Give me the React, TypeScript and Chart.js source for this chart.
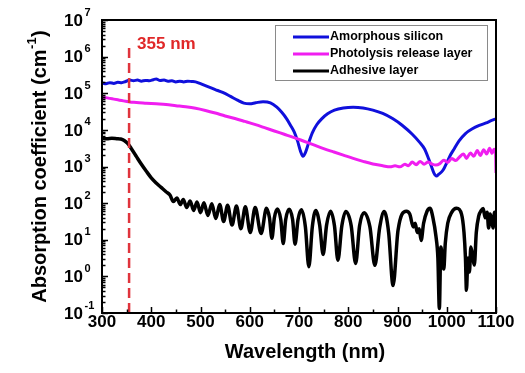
import React, { useEffect, useRef } from "react";
import { Chart, registerables } from "chart.js";

Chart.register(...registerables);

// ---------------- data ----------------
const siWavelength = [
  300, 308, 316, 324, 332, 340, 348, 356, 364, 372, 380, 388, 396, 404, 410, 418, 426, 434, 442, 450,
  458, 466, 474, 482, 490, 500, 515, 530, 545, 560, 575, 588, 600, 612, 627, 642, 655, 665, 675, 683,
  690, 697, 703, 708, 713, 719, 727, 736, 746, 758, 772, 790, 810, 830, 850, 870, 890, 910, 930, 945,
  955, 963, 969, 974, 979, 984, 990, 995, 1000, 1007, 1015, 1025, 1038, 1052, 1066, 1080, 1090, 1100,
];
const siAlpha = [
  1.91e5, 1.82e5, 1.95e5, 1.86e5, 2.0e5, 1.95e5, 2.09e5, 2.29e5, 2.19e5, 2.29e5, 2.14e5, 2.24e5, 2.19e5,
  2.34e5, 2.45e5, 2.24e5, 2.29e5, 2.14e5, 2.19e5, 2.04e5, 2.14e5, 2.04e5, 2.14e5, 2.09e5, 2.04e5,
  1.82e5, 1.51e5, 1.26e5, 1.05e5, 8.32e4, 6.46e4, 5.37e4, 5.13e4, 5.5e4, 5.89e4, 5.5e4, 4.17e4, 3.02e4,
  2.0e4, 1.32e4, 8.91e3, 5.01e3, 2.63e3, 1.91e3, 2.4e3, 4.17e3, 8.32e3, 1.38e4, 2.0e4, 2.75e4, 3.47e4,
  3.98e4, 4.17e4, 3.98e4, 3.47e4, 2.82e4, 2.04e4, 1.32e4, 7.59e3, 4.57e3, 3.02e3, 1.66e3, 1.0e3, 661,
  550, 617, 724, 912, 1.26e3, 2.0e3, 3.02e3, 5.01e3, 7.94e3, 1.07e4, 1.32e4, 1.55e4, 1.78e4, 2.0e4,
];

const prlWavelength = [
  300, 308, 316, 324, 332, 340, 348, 356, 370, 390, 410, 430, 450, 470, 490, 510, 530, 550, 570, 590,
  610, 630, 650, 670, 690, 710, 730, 750, 770, 790, 810, 830, 850, 870, 885, 895, 905, 915, 922, 930,
  938, 946, 954, 962, 970, 978, 986, 994, 1002, 1010, 1018, 1026, 1034, 1040, 1048, 1055, 1062, 1068,
  1075, 1081, 1087, 1092, 1096, 1099, 1100,
];
const prlAlpha = [
  7.76e4, 7.59e4, 7.24e4, 6.92e4, 6.61e4, 6.31e4, 6.03e4, 5.75e4, 5.62e4, 5.37e4, 5.13e4, 4.9e4, 4.57e4,
  4.27e4, 3.89e4, 3.39e4, 2.88e4, 2.4e4, 2.04e4, 1.7e4, 1.41e4, 1.15e4, 9.33e3, 7.59e3, 6.17e3, 4.9e3,
  3.89e3, 3.09e3, 2.51e3, 2.04e3, 1.66e3, 1.38e3, 1.17e3, 1.05e3, 977, 1.05e3, 977, 1.15e3, 1.05e3,
  1.32e3, 1.12e3, 1.38e3, 1.15e3, 1.32e3, 1.17e3, 1.1e3, 1.2e3, 1.48e3, 1.29e3, 1.66e3, 1.45e3, 1.82e3,
  2.19e3, 1.66e3, 2.34e3, 1.91e3, 2.75e3, 2.0e3, 2.88e3, 2.19e3, 3.16e3, 2.29e3, 2.95e3, 2.63e3, 661,
];

const adhWavelength = [
  300, 310, 320, 330, 338, 345, 352, 360, 370, 380, 390, 400, 410, 420, 430, 438, 445, 452, 459, 465,
  472, 479, 486, 493, 500, 507, 515, 523, 531, 539, 547, 555, 564, 573, 582, 591, 601, 611, 623, 634,
  640, 645, 650, 656, 663, 668, 673, 680, 687, 692, 698, 705, 713, 720, 727, 734, 742, 749, 756, 764,
  772, 779, 787, 795, 806, 815, 823, 832, 844, 854, 864, 873, 882, 891, 901, 918, 925, 932,
  936, 940, 944, 948, 953, 960, 966, 972, 978, 982, 985, 988, 991, 994, 997, 1002, 1010, 1020, 1030,
  1035, 1038, 1040, 1043, 1046, 1049, 1053, 1056, 1060, 1065, 1070, 1074, 1078, 1082, 1085, 1088, 1091,
  1094, 1097, 1100,
];
const adhAlpha = [
  5.89e3, 5.75e3, 5.89e3, 5.75e3, 5.62e3, 5.13e3, 4.27e3, 3.02e3, 1.86e3, 1.15e3, 741, 490, 355, 269,
  204, 166, 110, 138, 91.2, 126, 75.9, 115, 63.1, 107, 55, 102, 45.7, 95.5, 38, 91.2, 31.6, 87.1, 25.1,
  83.2, 20, 79.4, 15.8, 75.9, 14.8, 72.4,
  39.8, 11, 39.8, 69.2, 35.5, 7.94, 35.5, 67.6, 35.5, 7.59, 35.5, 66.1, 22.4, 1.82, 22.4, 63.1,
  25.1, 3.98, 25.1, 60.3, 24, 2.75, 24, 58.9, 24, 2.24, 24, 55, 22.4, 2.0, 22.4, 58.9, 15.8, 0.562,
  17.8, 60.3, 50.1, 22.4, 28.2, 15.8, 20, 9.55, 28.2, 60.3, 72.4,
  39.8, 12.6, 3.16, 0.132, 6.31, 3.16, 1.58, 7.94, 28.2, 56.2, 72.4, 50.1, 15.8, 3.16, 0.417, 3.16,
  1.32, 6.31, 3.16, 2.04, 15.8, 44.7, 63.1, 70.8, 39.8, 56.2, 20.9, 50.1, 35.5, 20.9, 56.2, 39.8,
];

const seriesNames = ["Amorphous silicon", "Photolysis release layer", "Adhesive layer"];
const seriesColors = ["#1010dc", "#f01ef0", "#000000"];

const xTickValues = [300, 400, 500, 600, 700, 800, 900, 1000, 1100];
const yDecadeExponents = [-1, 0, 1, 2, 3, 4, 5, 6, 7];
const yMinorMultipliers = [2, 3, 4, 5, 6, 7, 8, 9];

const markerWavelength = [355, 355];
const markerAlpha = [0.1, 1.8e6];
const markerLabel = "355 nm";

const xTitle = "Wavelength (nm)";
const yTitleMain = "Absorption coefficient (cm";
const yTitleSup = "-1";
const yTitleEnd = ")";

// ---------------- helpers ----------------
const FONT = "'Liberation Sans', Arial, Helvetica, sans-serif";

function toPoints(xs: number[], ys: number[]) {
  return xs.map((x, i) => ({ x, y: ys[i] }));
}

const decorPlugin = {
  id: "decor",
  beforeDraw(chart: any) {
    const ctx = chart.ctx;
    ctx.save();
    ctx.fillStyle = "#ffffff";
    ctx.fillRect(0, 0, chart.width, chart.height);
    ctx.restore();
  },
  afterDraw(chart: any) {
    const { ctx, chartArea: a, scales } = chart;
    const xs = scales.x;
    const ys = scales.y;
    ctx.save();

    // frame
    ctx.strokeStyle = "#000";
    ctx.lineWidth = 2;
    ctx.strokeRect(a.left, a.top, a.right - a.left, a.bottom - a.top);

    // x ticks (inward)
    ctx.lineWidth = 1.5;
    ctx.beginPath();
    xTickValues.forEach((v, i) => {
      const px = Math.round(xs.getPixelForValue(v)) + 0.5;
      ctx.moveTo(px, a.bottom);
      ctx.lineTo(px, a.bottom - 6);
      if (i < xTickValues.length - 1) {
        const mid = (v + xTickValues[i + 1]) / 2;
        const pm = Math.round(xs.getPixelForValue(mid)) + 0.5;
        ctx.moveTo(pm, a.bottom);
        ctx.lineTo(pm, a.bottom - 3.5);
      }
    });
    ctx.stroke();

    // y ticks (inward)
    ctx.beginPath();
    yDecadeExponents.forEach((e, i) => {
      const py = Math.round(ys.getPixelForValue(Math.pow(10, e))) + 0.5;
      ctx.moveTo(a.left, py);
      ctx.lineTo(a.left + 6, py);
      if (i < yDecadeExponents.length - 1) {
        yMinorMultipliers.forEach((m) => {
          const pm = Math.round(ys.getPixelForValue(m * Math.pow(10, e))) + 0.5;
          ctx.moveTo(a.left, pm);
          ctx.lineTo(a.left + 3.5, pm);
        });
      }
    });
    ctx.stroke();

    // x tick labels
    ctx.fillStyle = "#000";
    ctx.font = `bold 17px ${FONT}`;
    ctx.textAlign = "center";
    ctx.textBaseline = "middle";
    xTickValues.forEach((v) => {
      ctx.fillText(String(v), xs.getPixelForValue(v), a.bottom + 9);
    });

    // y tick labels 10^e
    yDecadeExponents.forEach((e) => {
      const py = ys.getPixelForValue(Math.pow(10, e));
      ctx.font = `bold 17px ${FONT}`;
      ctx.textAlign = "right";
      ctx.textBaseline = "middle";
      ctx.fillText("10", a.left - 19, py + 1);
      ctx.font = `bold 11px ${FONT}`;
      ctx.textAlign = "left";
      ctx.fillText(String(e), a.left - 17.5, py - 7.5);
    });

    // x title
    ctx.font = `bold 20px ${FONT}`;
    ctx.textAlign = "center";
    ctx.textBaseline = "middle";
    ctx.fillText(xTitle, (a.left + a.right) / 2 + 6, 352);

    // y title (rotated, with superscript)
    ctx.save();
    ctx.translate(46, (a.top + a.bottom) / 2);
    ctx.rotate(-Math.PI / 2);
    ctx.textAlign = "left";
    ctx.textBaseline = "alphabetic";
    ctx.font = `bold 20px ${FONT}`;
    const w1 = ctx.measureText(yTitleMain).width;
    const w3 = ctx.measureText(yTitleEnd).width;
    ctx.font = `bold 13px ${FONT}`;
    const w2 = ctx.measureText(yTitleSup).width;
    const total = w1 + w2 + w3 + 1;
    let sx = -total / 2;
    ctx.font = `bold 20px ${FONT}`;
    ctx.fillText(yTitleMain, sx, 0);
    sx += w1 + 0.5;
    ctx.font = `bold 13px ${FONT}`;
    ctx.fillText(yTitleSup, sx, -10);
    sx += w2 + 0.5;
    ctx.font = `bold 20px ${FONT}`;
    ctx.fillText(yTitleEnd, sx, 0);
    ctx.restore();

    // marker label
    ctx.fillStyle = "#e02828";
    ctx.font = `bold 17px ${FONT}`;
    ctx.textAlign = "left";
    ctx.textBaseline = "middle";
    ctx.fillText(markerLabel, xs.getPixelForValue(markerWavelength[0]) + 8, 44);

    // legend
    const lx = 275.5, ly = 25.5, lw = 212, lh = 55;
    ctx.strokeStyle = "#8a8a8a";
    ctx.lineWidth = 1;
    ctx.strokeRect(lx, ly, lw, lh);
    ctx.font = `bold 12.5px ${FONT}`;
    ctx.textAlign = "left";
    ctx.textBaseline = "middle";
    seriesNames.forEach((name, i) => {
      const yy = 37 + i * 17;
      ctx.strokeStyle = seriesColors[i];
      ctx.lineWidth = 3;
      ctx.beginPath();
      ctx.moveTo(293, yy);
      ctx.lineTo(329, yy);
      ctx.stroke();
      ctx.fillStyle = "#000";
      ctx.fillText(name, 330, yy);
    });

    ctx.restore();
  },
};

export default function App() {
  const ref = useRef<HTMLCanvasElement | null>(null);

  useEffect(() => {
    document.body.style.margin = "0";
    const canvas = ref.current;
    if (!canvas) return;
    const chart = new Chart(canvas, {
      type: "line",
      data: {
        datasets: [
          {
            label: "marker",
            data: toPoints(markerWavelength, markerAlpha),
            borderColor: "#e0343c",
            borderWidth: 2.5,
            borderDash: [10, 5],
            pointRadius: 0,
            order: 0,
          },
          {
            label: seriesNames[2],
            data: toPoints(adhWavelength, adhAlpha),
            borderColor: seriesColors[2],
            borderWidth: 3.5,
            pointRadius: 0,
            cubicInterpolationMode: "monotone",
            order: 1,
          },
          {
            label: seriesNames[1],
            data: toPoints(prlWavelength, prlAlpha),
            borderColor: seriesColors[1],
            borderWidth: 3,
            pointRadius: 0,
            cubicInterpolationMode: "monotone",
            order: 2,
          },
          {
            label: seriesNames[0],
            data: toPoints(siWavelength, siAlpha),
            borderColor: seriesColors[0],
            borderWidth: 3,
            pointRadius: 0,
            cubicInterpolationMode: "monotone",
            order: 3,
          },
        ],
      },
      options: {
        responsive: false,
        animation: false,
        devicePixelRatio: 1,
        layout: { padding: { left: 102, top: 20, right: 29, bottom: 60 } },
        plugins: { legend: { display: false }, tooltip: { enabled: false } },
        events: [],
        scales: {
          x: { type: "linear", min: 300, max: 1100, display: false },
          y: { type: "logarithmic", min: 0.1, max: 1e7, display: false },
        },
      } as any,
      plugins: [decorPlugin],
    });
    return () => chart.destroy();
  }, []);

  return <canvas ref={ref} width={525} height={373} style={{ display: "block" }} />;
}
